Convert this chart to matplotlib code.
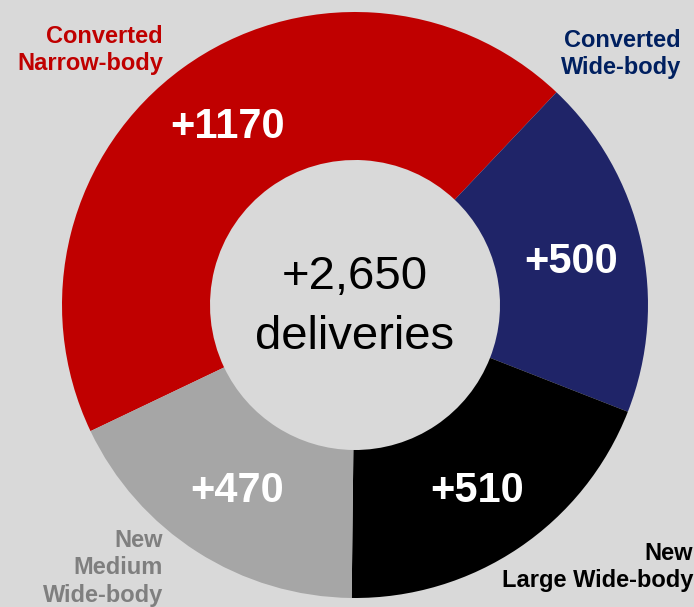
import matplotlib.pyplot as plt

labels = ["Converted\nNarrow-body", "Converted\nWide-body", "New\nLarge Wide-body", "New\nMedium\nWide-body"]
values = [1170, 500, 510, 470]
value_labels = ["+1170", "+500", "+510", "+470"]
colors = ["#c00000", "#1f2468", "#000000", "#a6a6a6"]
label_colors = ["#c00000", "#002060", "#000000", "#7f7f7f"]
total_text = "+2,650\ndeliveries"

plt.rcParams['font.family'] = ['Liberation Sans', 'DejaVu Sans']

W, H = 694, 607
fig = plt.figure(figsize=(W / 100, H / 100), dpi=100, facecolor="#d9d9d9")
ax = fig.add_axes([0, 0, 1, 1])

cx, cy, r = 355, H - 305, 293
ax.pie(values, colors=colors, startangle=205.5, counterclock=False,
       center=(cx, cy), radius=r, frame=True,
       wedgeprops=dict(width=148, linewidth=0))
ax.set_xlim(0, W)
ax.set_ylim(0, H)
ax.set_aspect("equal")
ax.set_axis_off()

# value labels inside the ring
val_pos = [(228, 127), (571, 262), (477, 491), (237, 491)]
for (x, y), t in zip(val_pos, value_labels):
    ax.text(x, H - y, t, color="white", fontsize=30, fontweight="bold",
            ha="center", va="center")

# category labels outside
lab_pos = [(163, 50), (681, 54), (693, 567), (163, 568)]
for (x, y), t, c in zip(lab_pos, labels, label_colors):
    ax.text(x, H - y, t, color=c, fontsize=17, fontweight="bold",
            ha="right", va="center", multialignment="right", linespacing=1.25)

ax.text(cx, H - 307, total_text, fontsize=34, ha="center", va="center",
        linespacing=1.45)

fig.savefig("out.png", dpi=100, facecolor=fig.get_facecolor())
